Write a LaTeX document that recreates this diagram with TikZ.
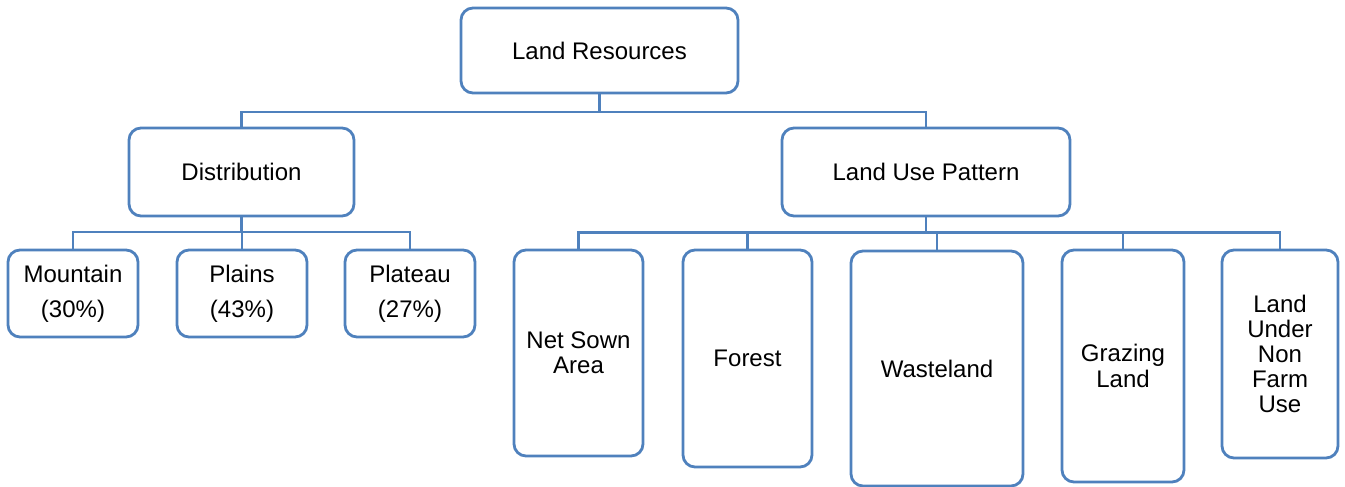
\documentclass[tikz,border=0pt]{standalone}
\usepackage{fontspec}
\setmainfont{Liberation Sans}
\definecolor{boxblue}{RGB}{79,129,189}
\begin{document}
\begin{tikzpicture}[x=0.5pt,y=-0.5pt,
  box/.style={draw=boxblue, line width=1.4pt, rounded corners=6pt, fill=white,
    align=center, inner sep=0pt, font=\fontsize{12}{17.5}\selectfont},
  tallbox/.style={box, font=\fontsize{12}{12.6}\selectfont},
  conn/.style={draw=boxblue, line width=1.1pt}]
\useasboundingbox (0,0) rectangle (1345,487);
% top
\node[box, minimum width=138.5pt, minimum height=42.5pt] (lr) at (599.5,50.5) {Land Resources};
\node[box, minimum width=112.5pt, minimum height=44pt] (dist) at (241.5,172) {Distribution};
\node[box, minimum width=144pt, minimum height=44pt] (lup) at (926,172) {Land Use Pattern};
% distribution children
\node[box, minimum width=65pt, minimum height=43.5pt] (mo) at (73,293.5) {Mountain\\(30\%)};
\node[box, minimum width=65pt, minimum height=43.5pt] (pl) at (242,293.5) {Plains\\(43\%)};
\node[box, minimum width=65pt, minimum height=43.5pt] (pt) at (410,293.5) {Plateau\\(27\%)};
% land use children
\node[tallbox, minimum width=64.5pt, minimum height=103pt] (ns) at (578.5,353) {Net Sown\\Area};
\node[tallbox, minimum width=64.5pt, minimum height=108.5pt] (fo) at (747.5,358.5) {Forest};
\node[tallbox, minimum width=86pt, minimum height=117.5pt] (wl) at (937,368.5) {Wasteland};
\node[tallbox, minimum width=61pt, minimum height=116pt] (gl) at (1123,366) {Grazing\\Land};
\node[tallbox, minimum width=58pt, minimum height=104pt] (lu) at (1280,354) {Land\\Under\\Non\\Farm\\Use};
% junctions
\coordinate (j1) at (599.5,112);
\coordinate (j2) at (241.5,232);
\coordinate (j3) at (926,232.5);
% connectors
\draw[conn] (lr.south) -- (j1);
\draw[conn] (dist.north) |- (j1) -| (lup.north);
\draw[conn] (dist.south) -- (j2);
\draw[conn] (mo.north) |- (j2) -| (pt.north);
\draw[conn] (pl.north) -- (pl.north |- j2);
\draw[conn] (lup.south) -- (j3);
\draw[conn] (ns.north) |- (j3) -| (lu.north);
\draw[conn] (fo.north) -- (fo.north |- j3);
\draw[conn] (wl.north) -- (wl.north |- j3);
\draw[conn] (gl.north) -- (gl.north |- j3);
\end{tikzpicture}
\end{document}
